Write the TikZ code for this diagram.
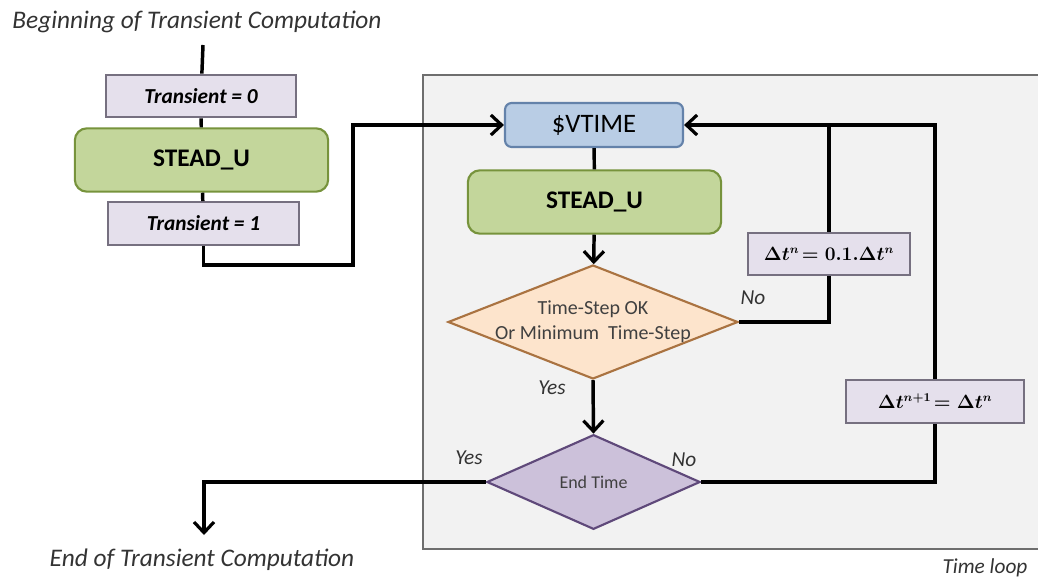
\documentclass[tikz,border=0pt]{standalone}
\usepackage{fontspec}
\setmainfont{Carlito}
\usetikzlibrary{shapes.geometric,arrows.meta}

\definecolor{loopfill}{RGB}{242,242,242}
\definecolor{loopline}{RGB}{110,110,110}
\definecolor{setfill}{RGB}{229,224,236}
\definecolor{setline}{RGB}{118,112,128}
\definecolor{steadfill}{RGB}{195,214,155}
\definecolor{steadline}{RGB}{119,147,60}
\definecolor{timefill}{RGB}{185,205,229}
\definecolor{timeline}{RGB}{100,130,170}
\definecolor{checkfill}{RGB}{253,228,204}
\definecolor{checkline}{RGB}{170,115,65}
\definecolor{endfill}{RGB}{204,193,218}
\definecolor{endline}{RGB}{95,73,122}

\tikzset{every picture/.style={line width=0.75pt}}
\tikzset{
  flowline/.style={line width=2.6pt,black},
  flowarrow/.style={flowline,-{Straight Barb[length=8pt,width=15pt,line width=2.4pt]}},
  setbox/.style={draw=setline,fill=setfill,line width=1.6pt,inner sep=0pt,
    font=\fontsize{16}{18}\selectfont\bfseries\itshape},
  mathbox/.style={draw=setline,fill=setfill,line width=1.6pt,inner sep=0pt,
    font=\fontsize{13.5}{16}\selectfont\boldmath},
  steadbox/.style={draw=steadline,fill=steadfill,line width=1.6pt,rounded corners=9pt,
    inner sep=0pt,minimum width=190pt,minimum height=47.5pt,
    font=\fontsize{19}{22}\selectfont\bfseries},
  timebox/.style={draw=timeline,fill=timefill,line width=1.6pt,rounded corners=5pt,
    inner sep=0pt,minimum width=133.5pt,minimum height=33pt,
    font=\fontsize{20}{22}\selectfont},
  checkbox/.style={diamond,draw=checkline,fill=checkfill,line width=1.6pt,inner sep=0pt,
    minimum width=217.5pt,minimum height=85.5pt},
  endbox/.style={diamond,draw=endline,fill=endfill,line width=1.6pt,inner sep=0pt,
    minimum width=160pt,minimum height=71pt},
  plaintext/.style={inner sep=0pt,font=\fontsize{19}{22}\selectfont\itshape,text=black!80},
  answer/.style={inner sep=0pt,font=\fontsize{16}{18}\selectfont\itshape,text=black!80}
}

\begin{document}
\begin{tikzpicture}[x=0.75pt,y=0.75pt,yscale=-1,xscale=1]
\useasboundingbox (0,0) rectangle (1038,581);

%Time loop frame
\fill[loopfill] (423,75) rectangle (1038,549);
\draw[loopline,line width=1.5pt] (1038,75) -- (423,75) -- (423,549) -- (1038,549);

%Outside of the loop
\node[plaintext] (begin) at (197,22) {Beginning of Transient Computation};
\coordinate (start) at (203,45);
\node[setbox,minimum width=142.5pt,minimum height=32pt] (trans0) at (201,96) {Transient = 0};
\node[steadbox] (stead1) at (201.5,160) {STEAD\_U};
\node[setbox,minimum width=143pt,minimum height=32pt] (trans1) at (203.5,223.5) {Transient = 1};
\coordinate (jump) at (353,265);

%Inside of the loop
\node[timebox] (vtime) at (594,125) {\$VTIME};
\node[steadbox] (stead2) at (594.5,202) {STEAD\_U};
\node[checkbox,label={[align=center,font=\fontsize{15}{19}\selectfont,text=black!75]center:Time-Step OK\\Or Minimum\ \ Time-Step}] (check) at (593,322) {};
\node[mathbox,minimum width=121.5pt,minimum height=31.5pt] (dtcut) at (829,254) {$\Delta t^{n}\!=0.1.\Delta t^{n}$};
\node[mathbox,minimum width=133.5pt,minimum height=32pt] (dtkeep) at (935,401.5) {$\Delta t^{n+1}\!=\Delta t^{n}$};
\node[endbox,label={[font=\fontsize{13.5}{16}\selectfont,text=black!75]center:End Time}] (endtime) at (593.5,482) {};

\node[plaintext] (finish) at (202,560) {End of Transient Computation};
\coordinate (stop) at (204,535);
\node[answer] (timeloop) at (985,568) {Time loop};

%Connectors
\draw[flowline] (start) -- (trans0);
\draw[flowline] (trans0) -- (stead1);
\draw[flowline] (stead1) -- (trans1);
\draw[flowarrow] (trans1.south) |- (jump) |- (vtime.west);
\draw[flowline] (vtime) -- (stead2);
\draw[flowarrow] (stead2) -- (check);
\draw[flowline] (check.east) -| (dtcut.south);
\draw[flowline] (dtcut.north) -- (dtcut.north |- vtime.east);
\draw[flowarrow] (dtkeep.north) |- (vtime.east);
\draw[flowarrow] (check.south) -- (endtime.north);
\draw[flowline] (endtime.east) -| (dtkeep.south);
\draw[flowarrow] (endtime.west) -| (stop);

%Answers
\node[answer] (nocheck) at (753,298) {No};
\node[answer] (yescheck) at (552,388) {Yes};
\node[answer] (yesend) at (469,458) {Yes};
\node[answer] (noend) at (684,460) {No};

\end{tikzpicture}
\end{document}
